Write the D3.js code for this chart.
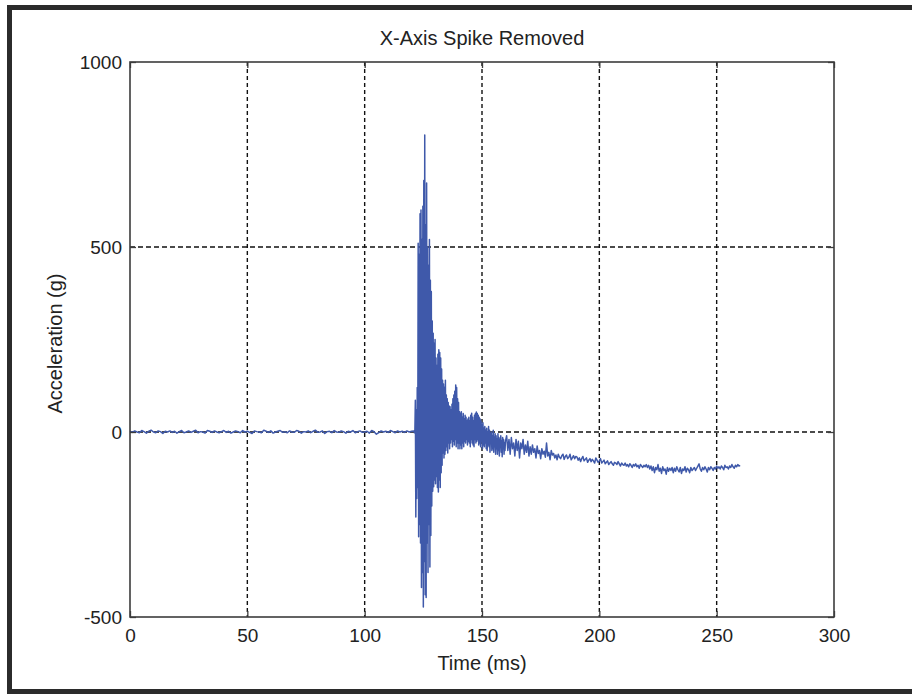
<!DOCTYPE html>
<html>
<head>
<meta charset="utf-8">
<script src="https://cdn.jsdelivr.net/npm/d3@7"></script>
<style>
  html, body { margin: 0; padding: 0; background: #fff; }
  svg { display: block; }
  text { font-family: "Liberation Sans", Arial, sans-serif; fill: #222; }
</style>
</head>
<body>
<svg id="chart" width="912" height="694"></svg>
<script>
// ---------------- DATA ----------------
const chartTitle = "X-Axis Spike Removed";
const xLabel = "Time (ms)";
const yLabel = "Acceleration (g)";
const xTicks = [0, 50, 100, 150, 200, 250, 300];
const yTicks = [-500, 0, 500, 1000];
const xDomain = [0, 300];
const yDomain = [-500, 1000];

// pre-impact baseline: t = 0 .. 120 ms, every 1 ms
const preStart = 0, preStep = 1;
const preValues = [
  2,-1,3,0,-2,4,1,-3,2,5,0,-2,3,1,-4,2,0,3,-1,2,
  -3,1,4,-2,0,3,-1,2,5,-2,1,0,-3,4,2,-1,3,0,-2,1,
  4,-1,2,-3,0,3,1,-2,4,0,2,-1,-4,3,1,0,-2,5,2,-1,
  3,-3,0,2,4,-1,1,-2,3,0,-1,4,2,-3,1,0,3,-2,2,5,
  -1,0,3,-4,1,2,-2,4,0,-1,3,1,-3,2,0,4,-2,1,3,-1,
  0,2,-3,4,1,-6,-2,3,0,2,-1,4,1,-2,3,0,2,-1,3,0,2
];

// impact spike: t = 121.0 .. 160.0 ms, every 0.2 ms
const spikeStart = 121, spikeStep = 0.2;
const spikeValues = [
  3,-2,5,86,-230,
  60,-180,120,-150,510,
  -283,480,-250,590,-300,
  600,-420,520,-380,610,
  -473,680,-350,803,-440,
  560,-447,673,-300,500,
  -380,450,-250,520,-365,
  410,-280,380,-200,300,
  -160,267,-148,240,-130,
  250,-140,200,-120,180,
  -150,210,-162,222,-130,
  215,-150,200,-110,170,
  -90,140,-57,130,-70,
  120,-60,140,-50,100,
  -40,90,-57,80,-30,
  70,-45,68,-30,60,
  -20,75,-40,90,-25,
  100,-35,110,-20,127,
  -40,120,-30,90,-45,
  80,-30,55,-45,50,
  -35,55,-45,40,-30,
  50,-40,35,-25,45,
  -30,40,-20,30,-35,
  35,-25,40,-30,30,
  -40,45,-20,51,-30,
  40,-35,30,-40,45,
  -20,50,-30,54,-25,
  50,-20,45,-35,40,
  -30,35,-40,30,-25,
  20,-45,25,-35,10,
  -40,15,-30,5,-45,
  10,-50,0,-35,15,
  -40,5,-55,-5,-30,
  0,-50,-10,-45,5,
  -55,-15,-40,-5,-60,
  -10,-45,-20,-60,-5,
  -50,-15,-65,-20,-40,
  -10,-55,-25,-67,-15,
  -45,-20,-60,-30,-50,
  -25
];

// decay tail: t = 160.5 .. 260.0 ms, every 0.5 ms
const tailStart = 160.5, tailStep = 0.5;
const tailValues = [
  -10,-50,-20,-60,-15,-45,-30,-65,-20,-50,-25,-70,-30,-45,-20,-60,-35,-55,-25,-65,
  -40,-60,-35,-55,-45,-70,-38,-58,-50,-72,-45,-60,-52,-68,-30,-65,-55,-75,-50,-62,
  -58,-70,-62,-75,-60,-68,-72,-64,-60,-74,-66,-62,-72,-68,-60,-75,-70,-64,-72,-66,
  -68,-76,-70,-80,-72,-66,-78,-74,-70,-82,-76,-72,-80,-74,-78,-84,-70,-76,-82,-78,
  -72,-84,-80,-76,-86,-82,-78,-88,-84,-80,-86,-90,-82,-84,-88,-80,-86,-92,-84,-88,
  -90,-84,-92,-88,-94,-86,-90,-96,-88,-92,-86,-94,-90,-98,-88,-92,-96,-90,-94,-88,
  -96,-90,-100,-92,-104,-94,-110,-96,-102,-88,-106,-98,-112,-94,-104,-100,-114,-96,-106,-98,
  -104,-96,-110,-98,-106,-94,-102,-108,-96,-112,-100,-104,-94,-108,-98,-102,-110,-96,-104,-100,
  -96,-104,-98,-92,-86,-100,-106,-96,-102,-94,-100,-108,-96,-102,-94,-98,-104,-96,-100,-92,
  -98,-94,-100,-92,-96,-102,-90,-96,-94,-100,-92,-96,-88,-94,-98,-90,-94,-88,-92,-90
];

// ---------------- BUILD SERIES ----------------
function seg(start, step, vals) {
  return vals.map((v, i) => ({ t: +(start + i * step).toFixed(3), v }));
}
const series = [].concat(
  seg(preStart, preStep, preValues),
  seg(spikeStart, spikeStep, spikeValues),
  seg(tailStart, tailStep, tailValues)
);

// ---------------- LAYOUT ----------------
const svg = d3.select("#chart");
const W = 912, H = 694;
const plot = { left: 130, top: 62, right: 834, bottom: 617 };

const x = d3.scaleLinear().domain(xDomain).range([plot.left, plot.right]);
const y = d3.scaleLinear().domain(yDomain).range([plot.bottom, plot.top]);

// outer frame (top, left, bottom bars)
const frameColor = "#2b2b2b";
svg.append("rect").attr("x", 7).attr("y", 5).attr("width", W - 7).attr("height", 5).attr("fill", frameColor);
svg.append("rect").attr("x", 7).attr("y", 5).attr("width", 5).attr("height", H - 5).attr("fill", frameColor);
svg.append("rect").attr("x", 7).attr("y", 689).attr("width", W - 7).attr("height", 5).attr("fill", frameColor);

// grid
const grid = svg.append("g");
grid.selectAll(".gx").data(xTicks.filter(d => d > xDomain[0] && d < xDomain[1])).enter()
  .append("line")
  .attr("x1", d => x(d)).attr("x2", d => x(d))
  .attr("y1", plot.top).attr("y2", plot.bottom)
  .attr("stroke", "#111").attr("stroke-width", 1.4).attr("stroke-dasharray", "4,3");
grid.selectAll(".gy").data(yTicks.filter(d => d > yDomain[0] && d < yDomain[1])).enter()
  .append("line")
  .attr("x1", plot.left).attr("x2", plot.right)
  .attr("y1", d => y(d)).attr("y2", d => y(d))
  .attr("stroke", "#111").attr("stroke-width", 1.4).attr("stroke-dasharray", "5,3");

// data line
const line = d3.line().x(d => x(d.t)).y(d => y(d.v));
svg.append("path")
  .datum(series)
  .attr("d", line)
  .attr("fill", "none")
  .attr("stroke", "#3f59aa")
  .attr("stroke-width", 1.5)
  .attr("stroke-linejoin", "round");

// axes (inward ticks, MATLAB style)
const tickLen = 6;
const fmt = d => String(d);
const axBottom = svg.append("g").attr("transform", `translate(0,${plot.bottom})`)
  .call(d3.axisBottom(x).tickValues(xTicks).tickSize(-tickLen).tickPadding(12).tickFormat(fmt));
const axTop = svg.append("g").attr("transform", `translate(0,${plot.top})`)
  .call(d3.axisTop(x).tickValues(xTicks).tickSize(-tickLen).tickFormat(""));
const axLeft = svg.append("g").attr("transform", `translate(${plot.left},0)`)
  .call(d3.axisLeft(y).tickValues(yTicks).tickSize(-tickLen).tickPadding(8).tickFormat(fmt));
const axRight = svg.append("g").attr("transform", `translate(${plot.right},0)`)
  .call(d3.axisRight(y).tickValues(yTicks).tickSize(-tickLen).tickFormat(""));

[axBottom, axTop, axLeft, axRight].forEach(a => {
  a.select(".domain").remove();
  a.selectAll(".tick line").attr("stroke", "#3c3c3c").attr("stroke-width", 1.3);
  a.selectAll("text").attr("font-size", 19).attr("fill", "#222")
    .attr("font-family", "'Liberation Sans', Arial, sans-serif");
});
axBottom.selectAll("text").attr("dy", "0.71em");
axLeft.selectAll("text").attr("dy", "0.35em");

// plot box
svg.append("rect")
  .attr("x", plot.left).attr("y", plot.top)
  .attr("width", plot.right - plot.left).attr("height", plot.bottom - plot.top)
  .attr("fill", "none").attr("stroke", "#3c3c3c").attr("stroke-width", 1.6);

// title & labels
svg.append("text")
  .attr("x", (plot.left + plot.right) / 2).attr("y", 45)
  .attr("text-anchor", "middle").attr("font-size", 20)
  .text(chartTitle);

svg.append("text")
  .attr("x", (plot.left + plot.right) / 2).attr("y", 670)
  .attr("text-anchor", "middle").attr("font-size", 20)
  .text(xLabel);

svg.append("text")
  .attr("transform", `translate(62,${(plot.top + plot.bottom) / 2 + 4}) rotate(-90)`)
  .attr("text-anchor", "middle").attr("font-size", 20)
  .text(yLabel);
</script>
</body>
</html>
